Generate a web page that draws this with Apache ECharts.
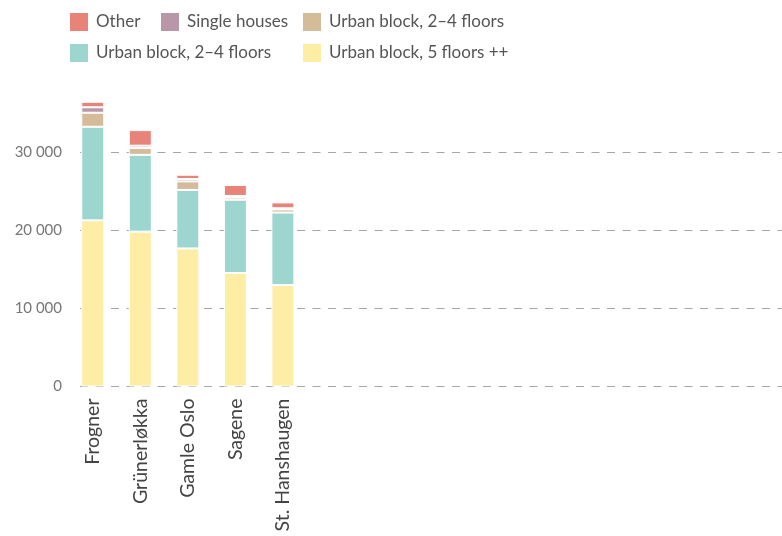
<!DOCTYPE html>
<html>
<head>
<meta charset="utf-8">
<script src="https://cdn.jsdelivr.net/npm/echarts@6/dist/echarts.min.js"></script>
<style>
  html, body { margin: 0; padding: 0; background: #fff; }
  #chart { width: 782px; height: 536px; }
</style>
</head>
<body>
<div id="chart"></div>
<script>
// districts and housing floor area per building type
const districts = ['Frogner', 'Grünerløkka', 'Gamle Oslo', 'Sagene', 'St. Hanshaugen']
const blocks5Floors = [21300, 19850, 17700, 14550, 13000]
const blocks24Teal = [12000, 9850, 7500, 9400, 9300]
const blocks24Tan = [1800, 870, 1100, 280, 400]
const singleHouses = [700, 300, 300, 200, 150]
const otherTypes = [700, 2000, 550, 1400, 750]
const yTicks = [0, 10000, 20000, 30000]

// series from bottom to top of stack
const seriesLabels = ['Urban block, 5 floors ++', 'Urban block, 2–4 floors', 'Urban block, 2–4 floors', 'Single houses', 'Other']
const seriesData = [blocks5Floors, blocks24Teal, blocks24Tan, singleHouses, otherTypes]
const colors = ['#FEEDA4', '#9DD5CF', '#D4BB99', '#B898A8', '#E8837A']

// the x axis has room for more districts than are shown
const slotCount = 15
const categories = districts.concat(new Array(slotCount - districts.length).fill(''))

const FONT = 'Lato, "Open Sans", sans-serif'
const seriesName = i => seriesLabels[i] + '|' + i

// legend placement: [seriesIndex, left, top]
const legendSpots = [[4, 68, 11], [3, 159, 11], [2, 301, 11], [1, 68, 42], [0, 301, 42]]

const chart = echarts.init(document.getElementById('chart'))
chart.setOption({
  animation: false,
  color: colors,
  legend: legendSpots.map(([i, left, top]) => ({
    data: [seriesName(i)],
    left: left,
    top: top,
    padding: 0,
    icon: 'rect',
    itemWidth: 20,
    itemHeight: 20,
    selectedMode: false,
    formatter: n => n.split('|')[0],
    textStyle: { color: '#555', fontSize: 17, fontFamily: FONT, padding: [0, 0, 0, 2] }
  })),
  grid: [
    // grid 0: gridlines and y labels
    { left: 80, right: 0, top: 152.5, bottom: 149.5 },
    // grid 1: bars and district labels
    { left: 69, right: -7, top: 74.5, bottom: 149.5 }
  ],
  xAxis: [
    { gridIndex: 0, type: 'category', data: categories, show: false },
    {
      gridIndex: 1,
      type: 'category',
      data: categories,
      axisLine: { show: false },
      axisTick: { show: false },
      axisLabel: {
        interval: 0,
        rotate: 90,
        margin: 12,
        color: '#444',
        fontSize: 19.5,
        fontFamily: FONT
      }
    }
  ],
  yAxis: [
    {
      gridIndex: 0,
      type: 'value',
      min: yTicks[0],
      max: yTicks[yTicks.length - 1],
      interval: yTicks[1] - yTicks[0],
      axisLine: { show: false },
      axisTick: { show: false },
      axisLabel: {
        margin: 18,
        color: '#777',
        fontSize: 15,
        fontFamily: FONT,
        formatter: v => String(v).replace(/\B(?=(\d{3})+(?!\d))/g, ' ')
      },
      splitLine: { lineStyle: { color: '#a6a6a6', width: 1, type: [8, 7.5] } }
    },
    { gridIndex: 1, type: 'value', min: 0, max: 40000, show: false }
  ],
  series: seriesData.map((data, i) => ({
    name: seriesName(i),
    type: 'bar',
    stack: 'total',
    xAxisIndex: 1,
    yAxisIndex: 1,
    barWidth: 23,
    data: data,
    itemStyle: { color: colors[i], borderColor: '#fff', borderWidth: 1 }
  }))
})
</script>
</body>
</html>
